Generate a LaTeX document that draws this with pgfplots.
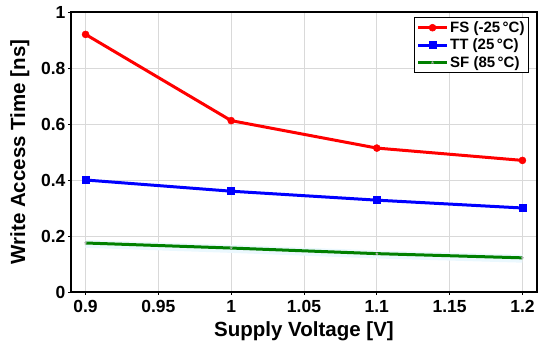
\documentclass[border=0pt]{standalone}
\usepackage{pgfplots}
\pgfplotsset{compat=1.18}
\usepackage{fontspec}
\setmainfont{Liberation Sans}
\begin{document}
\begin{tikzpicture}[x=1pt,y=1pt]
\useasboundingbox (0,0) rectangle (550,348);
\begin{axis}[
  scale only axis,
  width=466pt, height=280pt,
  at={(71pt,56pt)}, anchor=south west,
  xmin=0.89, xmax=1.21, ymin=0, ymax=1,
  xtick={0.9,0.95,1,1.05,1.1,1.15,1.2},
  xticklabels={0.9,0.95,1,1.05,1.1,1.15,1.2},
  ytick={0,0.2,0.4,0.6,0.8,1},
  yticklabels={0,0.2,0.4,0.6,0.8,1},
  /pgf/number format/assume math mode=true,
  grid=major,
  grid style={gray!30, line width=0.8pt},
  axis line style={line width=2pt},
  tick style={black, line width=0.8pt},
  tick align=outside,
  major tick length=3pt,
  xtick pos=bottom, ytick pos=left,
  ticklabel style={font=\fontsize{17.5}{19}\selectfont\bfseries},
  xticklabel style={yshift=-2pt},
  yticklabel style={xshift=1pt},
  xlabel={Supply Voltage [V]},
  ylabel={Write Access Time [ns]},
  label style={font=\fontsize{20.5}{22}\selectfont\bfseries},
  xlabel style={yshift=-2pt},
  ylabel style={yshift=5pt},
  legend style={at={(0.983,0.982)}, anchor=north east, draw=black, line width=1pt,
    font=\fontsize{15}{16}\selectfont\bfseries, row sep=1pt, inner sep=2pt,
    nodes={inner sep=2pt}},
  legend image code/.code={
    \draw[mark repeat=2,mark phase=2] plot coordinates {(0cm,0cm) (0.5cm,0cm) (1cm,0cm)};},
  legend cell align=left,
]
\addplot[cyan!8, line width=8pt, forget plot] coordinates {(0.9,0.172) (1.0,0.154) (1.1,0.134) (1.2,0.119)};
\addplot[red, line width=3pt, mark=*, mark size=3.5pt, mark options={line width=0.5pt}] coordinates {(0.9,0.920) (1.0,0.612) (1.1,0.514) (1.2,0.470)};
\addlegendentry{FS (-25\,°C)}
\addplot[blue, line width=3pt, mark=square*, mark size=3.5pt, mark options={line width=0.5pt}] coordinates {(0.9,0.400) (1.0,0.360) (1.1,0.328) (1.2,0.300)};
\addlegendentry{TT (25\,°C)}
\addplot[green!50!black, line width=3pt, mark=star, mark size=1.5pt, mark options={line width=0.5pt, gray!60}] coordinates {(0.9,0.175) (1.0,0.157) (1.1,0.137) (1.2,0.122)};
\addlegendentry{SF (85\,°C)}
\end{axis}
\end{tikzpicture}
\end{document}
